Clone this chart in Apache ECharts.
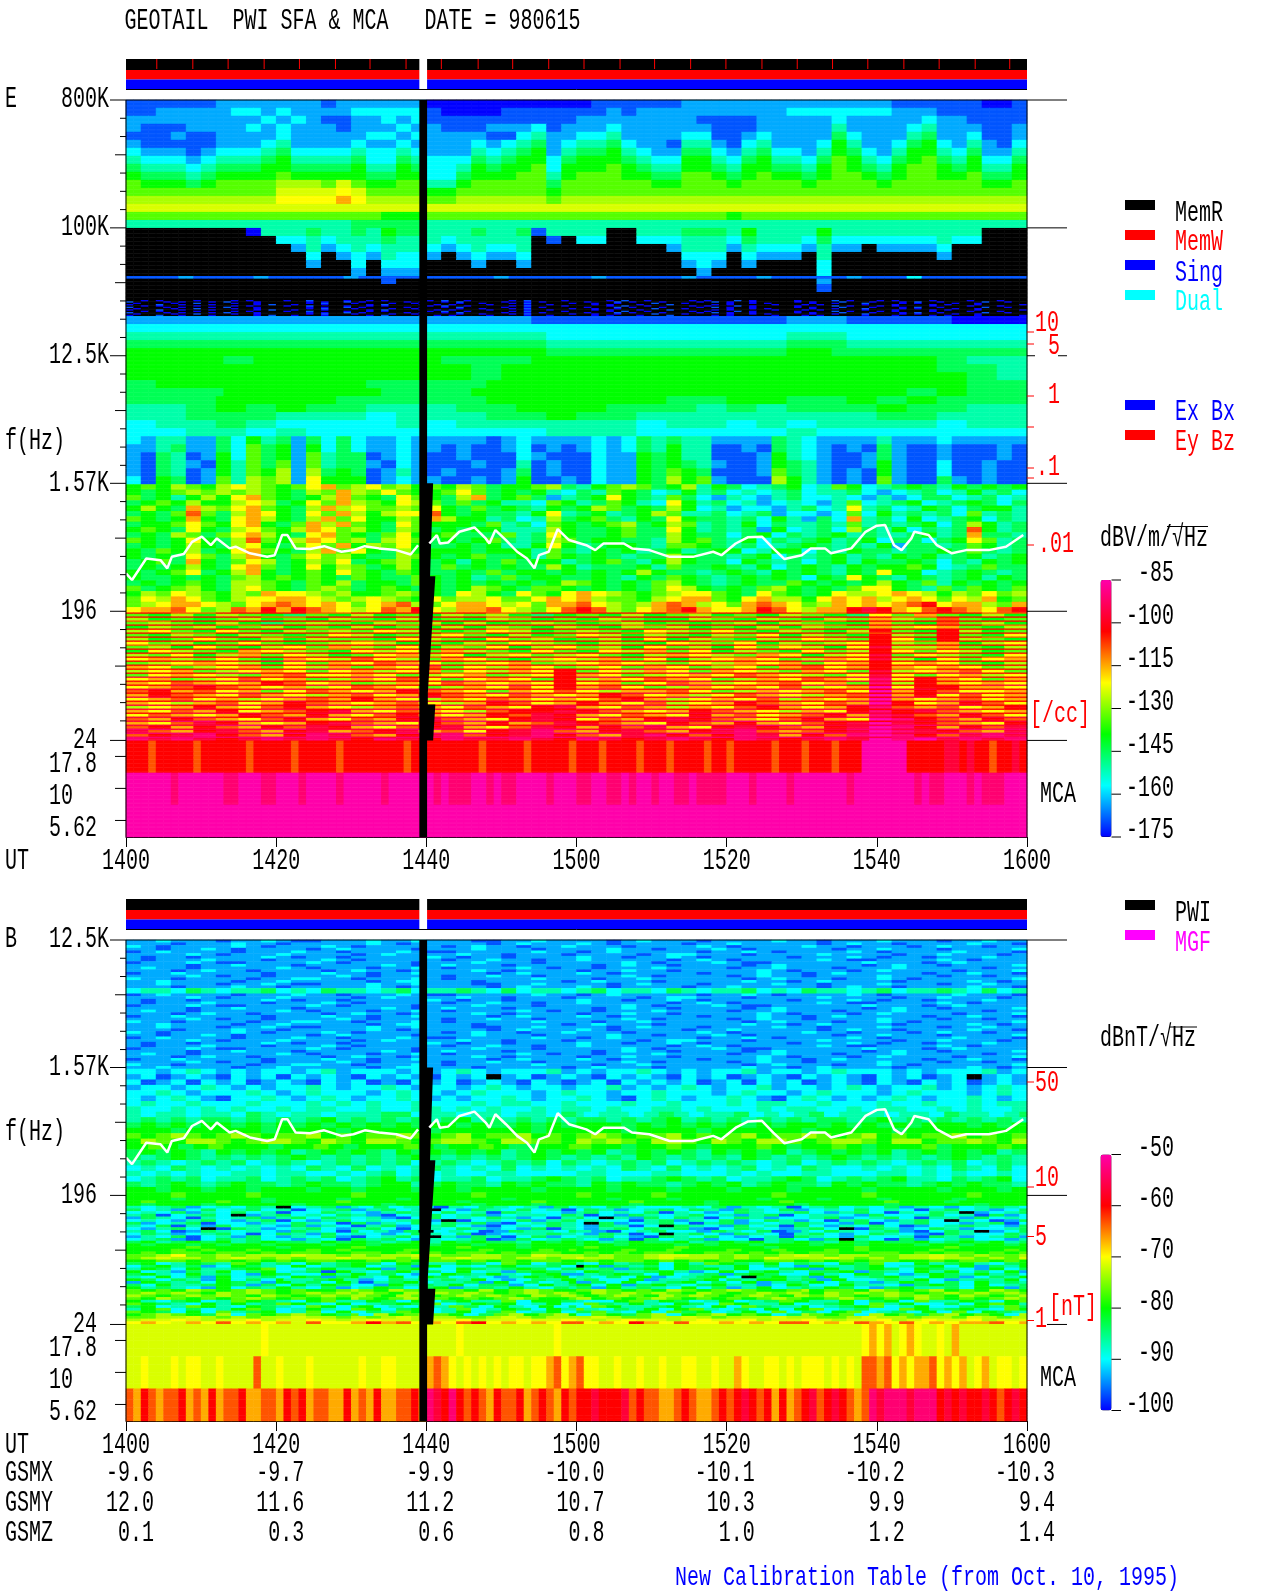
<!DOCTYPE html>
<html><head><meta charset="utf-8">
<style>html,body{margin:0;padding:0;background:#fff}#c{width:1280px;height:1593px}</style>
<script src="https://cdn.jsdelivr.net/npm/echarts@6/dist/echarts.min.js"></script>
</head><body><div id="c"></div>
<script>
// level letters: a=weakest ... p=strongest, q=yellow-lime, '.'=no signal (black)
const levelCodes = "abcdefghijklmnopq";
const eLevels = [-174.9,-169,-163,-157,-151,-145,-139,-133,-127,-121,-115,-109,-103,-97,-91,-85,-123.7];
const bLevels = [-99.9,-96.7,-93.3,-90,-86.7,-83.3,-80,-76.7,-73.3,-70,-66.7,-63.3,-60,-56.7,-53.3,-50,-71.5];
const utMinutes = [0,20,40,60,80,100,120];
const utLabels = ['1400','1420','1440','1500','1520','1540','1600'];
const gsmx = ['-9.6','-9.7','-9.9','-10.0','-10.1','-10.2','-10.3'];
const gsmy = ['12.0','11.6','11.2','10.7','10.3','9.9','9.4'];
const gsmz = ['0.1','0.3','0.6','0.8','1.0','1.2','1.4'];
const eMajorHz = [800000,100000,12500,1570,196,24];
const eMajorLabels = ['800K','100K','12.5K','1.57K','196','24'];
const bMajorHz = [12500,1570,196,24];
const bMajorLabels = ['12.5K','1.57K','196','24'];
const mcaAxisHz = [18.5,11.0,6.53];
const mcaLabels = ['17.8','10','5.62'];
const statusTicks = [4.1,8.9,13.6,18.4,23.1,27.9,32.5,37.3,42,46.9,51.5,56.3,61,65.8,70.4,75.2,79.9,84.7,89.4,94.1,98.8,103.6,108.3,113.1,117.7];
const gapMin = [39.07,40.1,40.1,40.9,40.5,41.2,40.2,40.2,41.2,40.9,40.1,40.1,39.07];
const gapHz = [800000,800000,1570,1570,347,347,52,43,43,24,24,4.99,4.99];
const plasmaMin = [0,.8,2.7,4.6,5.5,6.1,7.7,8.8,10.1,11.3,12.1,13.8,14.6,16.5,18.8,19.8,20.8,21.5,22.6,24.5,26.4,28.7,30.3,31.8,33.7,36,37.9,38.9,null,40.4,41.4,41.8,42.9,44.4,46.4,47.9,48.4,49.2,50.6,52.1,53.4,54.4,55,56.3,57.5,59,61.3,62.5,63.6,66.3,67.4,69.7,72.4,75.5,78.2,79.3,81.2,82.8,84.7,86.2,87.7,90,91.2,93.1,93.9,96.6,98.5,100,101.1,102.3,103.3,104.6,105,106.9,108,110,111.9,114.9,117.2,119.5];
const plasmaHz = [363,326,462,450,394,475,497,606,659,574,641,545,560,503,475,488,677,677,545,539,565,516,530,565,545,530,494,574,null,590,677,590,600,714,766,641,590,734,624,516,462,394,488,516,746,624,574,530,590,590,545,530,475,475,516,488,590,652,659,545,458,488,545,545,503,545,714,788,797,574,530,641,714,677,574,503,530,530,560,677];

// E panel, 800K-100K, one string per 2-minute column, top to bottom
const eWaveCols = ["bbccbcdefghhiqhe","bbcbbbcdefghiqhe","bccbbbcdefghiqhe","bccbcbcdefghiqhe","bcccbbbcdefhiqhe","bcccbbcdefghiqhe","ccccccdefghhiqhe","cdccccdefghhiqhe","cdcdccdefghhiqhe","ccdccdefgghhiqhe","cdcddefgghiqjqhe","ccdcccdefgiqjqhe","ccccccdefgiqjqhe","bcbcccdefghqjqhe","ccbbccdefgqjkqhe","cdcccdefgghqjqhf","cdccdcddefghiqhf","cddcdcddefghiqgf","cdcdcdefgghhiqgf","cddcdcdefghhiqgf","abbccccdddeghqhe","aabbcccdddeghqhe","aabbcccdefghiqhe","aabbcdefgghhiqhe","aabcbcdefghhiqhe","abbcbdefgghhiqhe","abbcdefgghhhiqhe","abbdefgghhhhiqhe","abbbcccddefghqhe","abbccdefgghhiqhe","abccdefgghhhiqhe","bbccdefgghhhiqhe","bccdefgghhhhiqhe","bbcccdefgghhiqhe","bcccccdefghhiqhe","bccccccdefghiqhe","bccccbcdefghiqhe","ccccdefgghhhiqhe","ccbcdefgghhhiqhe","ccbbbcdefghhiqhe","ccbbbbcdefghiqge","ccbbcdefgghhiqhe","ccccdefgghhhiqhe","ccccccdefghhiqhe","cdccccdefghhiqhe","cdcccccdefghiqhe","cdcccdefgghhiqhe","cddefgghhhhhiqhe","cdccdefgghhhiqhe","cdccccdefghhiqhe","cdcccccdefghiqhe","bccccdefgghhiqhe","bccdefgghhhhiqhe","bcdefgghhhhhiqhe","bbcccdefgghhiqhe","bbccccdefghhiqhe","bbbcdefgghhhiqhe","abbbbccdefghiqhe","abbbbbcdefghiqhe","bbbccdefgghhiqhe"];
// E panel, 100K-12.5K, same columns
const eGapCols = ["..........acdefg",".........aacdefg","..........acdefg",".........aacdefg","..........acdefg",".........aacdefg","..........acdefg",".........aacdefg","a.........acdefg","e........aacdefg","ed........acdefg","edc......aacdefg","feedc.....acdefg","edc......aacdefg","eedc......acdefg","feeddc...aacdefg","eedc......acdefg","gfeedcb..aacdefg","feeddc....acdefg","feeddc...aacdefg","eedc......acdefg","edc.......acdefg","eedc.....aacdefg","feedc.....acdefg","eedc.....aacdefg","eedc......acdefg","feedc....aacdefg","b.........abdefg","eb........abddef","e.........abddef","ed........abddef","ed........abddef","..........abddef","..........abddef","ed........abddef","ed........abddef","edc.......abddef","feedc.....abddef","feeddc....abddef","feedc.....abddef","edc.......abddef","gfedc.....abddef","eedc......abddef","eedc......abddef","eedc......bcdefg","edc.......bcdefg","gfeeddcb..bcdefg","edc.......bcdeff","edc.......abddef","ed........abddef","edc.......abddef","edc.......abddef","edc.......abddef","edc.......abddef","eedc......abddef","ed.........addef","ed.........addef","...........addef","...........addef","...........addef"];
const eHumRow = "bbbcbbbbcbbbbbcbbbbbbbbbcbbbbbcbbbbbcbbbbcbbbbbcbbbdbbbbbbb";
// blue speckle on black, just above the 12.5K band
const eSpeckle = [
".a....a..b....a..a......a.b...a....a..a.....a..a...a.b.....a...a..a....b...a.....a..a.a.....a..a...b....a.a....a..a......a",
"a...b..a...a.....a.b..a...a.....a.b....a..a.a....a....a..a.....a.a...a...b.....a..a.....a...a.a.....a...a....a.a...a.....a.",
"..a.a....a....a.a....a..b....a..a.a.....a.b..a.....a.b....a.a....a.b..a.....a.a...b.a.....a....b.a...a.a....a....a...a....",
"b....a.a...a.b...a......a.a..b.a.....a.a..a.b.....a..a.a....a.a...b.a...a....a.b.a..a.....a.a...b...a...a.b..a.....b..a..a"];
// E panel, 12.5K-1.57K
const eBand3 = ["gggfggggggfffgggggggggggggfee","gggggggggggfggggggggggggggffe","gggggggggggfgggggggggggggggfe","fgggggggffffggggggggggggggggff","fffgggggfffggggggggggggggfgff","fffggggfffffggggggffggffgfgfff","eefgfgffeeeffgggfffefefffgffee","eefffeeedeeeffgffeeeeeeeeffeee","deefeddddedeeeeeedeededeeeedee","ddeededdddddddeeedddddeddddddd",
"dceeccfdgefcfdfdccdcccccbcdccccdcdfefeeccccfedccccecccdccccc","ccefccfdhfgcgdfdccdccbcbbcdbcbcdcdfegeebbcbfedcbcbfcbbcbbbcb","cbfebcgdhfgcheffbcdcbbcbbbdcbbbdccgfgeebbbcgedcbbcfcbbcbbbcb","cbfecbgehfhcheffcbdcbbbcbbebcbbdccgfgfecbbcgfecbbcgcbbdbbcbb","cbfebcgehgicifgfbcecbcbbbcfbcbbdccgfhgfbbbchfecbcbgcbbdbbcbb","dbgfbcheihicjgggbcdccbbcbcgbbcbdccgfighcbbbigecbcbhcbbfcbcbb"];
// E panel, 1.57K-196
const eBand4 = [
"ghgihgijihghjkhijhighgihfgghifeghihfgiegfdefgdehgdefgfegfgfg",
"gfghihihihgfihkihjhgghjhfgfgedfehgfdegefdedefdeefdcdefdegefd",
"hfgegigjkhgfgikhgfjhgfikfghfcefgjgfehfdcedcefddedcecdffdefde",
"fghgiggijifgjhkihgjihfhfgeedhgefhgedjgefdecdedcehdefgdefgfdf",
"gigfkihjkhgfikijhhihjgfhfgfegfgihfgfigdecddcefdejefdegfdfgge",
"fgfhlhfikjgfjhkigijjlgfgffegjefgefgiheefdefcddcdhdgefefdhefe",
"hgfgkgfjkigfikhjggihkiggefdeifghfegfjgffefdgecfdkefdgdefgdfe",
"fgghjhgjkgfhkikhgfjhgggfhefdhgfghifgihefegdfeefehefefgdfigef",
"ghgfjgfijhgikjhigfihfgfggeeeigffghffjgefefcgdefdifegdfeflgef",
"fgfihfhjkigfjkhgfhjgghfffhefjgffghffigffdfgdfefgefeefgefkffe",
"hgfgjgfilhgikjhifijhfgfghfefihfggffeighfegdfefgefgdffdfgjhef",
"fgfgigfijgfhjhkgihjgffgfgeegjgefggfehhgfefdefgfefegcffefhgef",
"gfhgifgjkhgfikhjgfiggggfgggehfegfgefgefggdeggdfegffeffgfhfef",
"gfgfjhfikgfhjhigffihgfghffgehgfgfeffigffefgdfefgefegfgefgefg",
"fghfkgfhjifgihjfghigfgegfhfggefghfegigffdgfefdfgegffgfdfegfg",
"fgfgigfjkhfgjgihfgigfhfgfgffigefffgehffgfegdfgfegfgghgdefhff",
"gfghjfgikgfghgjhgfhgffgfhfggfgfgfgigffefgfegfgfegfjggdefgfef",
"gffgfgfhighghgfhgffhgfgefhfggffgfegfhgfefgfgfdgfjgfegfefgegf",
"fgfghgfiihgfhgifggfhgfgfgfgfgihgfgfhigfefgffhgfgfgigfhegfgfg",
"hfghigfijhgfhihfghgfgfgihgfhhgfgfgfhjigfgfhigfgfhjjgfehfhgfh",
"gihjihgihkjjihigghihgfjigfjhgjkjihghijjhgfjhgfgjiijkjigihjhi",
"hjikjhgijjkkjihijihgjhiijhhjkjkihhgijkkhgjkiigjkjkijkjhjikgh",
"hijkkjihjklkjkjhjklihjkkjijhkkljihiklkijhklkjhikjkjklmjkkihk",
"jkkljhilkmkmlkjijlkmjikkljihjlmlihjklmkjjkmljikkmnmkjlmlkjlm"];
// E panel, 196-24: colour between the thin lines
const eBand5 = [
"hgigihgfhgighgihigfghgighighgihgfjhkhgig","ighghighgihgighgihghgihggihgihgihkihlhgh","hihgigfhihgihigighihghighghigihggkhglhig","gihighighgighgigihgihgihighgigihhkijkhgi",
"ijhgjhgihihjihghjighihgjihjhgihgimhgmigh","hgihgihghjighijhgighjigihgihjgihgmihmhgj","ighjhgigihhgjihgjhighigjgihgihjihmjgmihg","jhighjhghijighgihjihgihgjihjgihijmihkgij",
"higjhgijhkihjgihjgijhigjhigjhjigjniikhgi","gjihgkjihgjijhkihgjhgjikhjgihgjhimjhjigh","ihjgikhjighjkijgijhijhgikjihkjgijnhjihgj","jkihjhgkjiljihkjhgijikhjgijkjhikjnigjhjk",
"hijkjigjhkjlkjhijkhijkjihjikjkhjkmjkjhgi","kjhijkhjikhkjlhjikjhijhkjhijhkljkmkjkjhi","ijkhijkjhjkijkhjikjmhjikjhkjihkjhnijkljh","hjkjihkljjkjhijkhijmkjhijkjlkjihjnjhjkij",
"jkhijljkhikjljhjkjhmikjlkjhikjlkjojmkjhk","kjlkjkmljkhikjlkjkjmjkhjlkijkljkhoimkjkj","jklmlkjkijlkjhikjljmkljhikjkjlijkpjmmkkj","lmkljkhjlkjkmlkjhkjljikkljhikjkljpkmljjk",
"kmlkjlkjikljkmlkjlkjkmljkijlkjiklpkmjljk","jkljkijklkmkjikjlkjkjlmkijkjlikjkpkjkljk","kjikljkmlkjkljikmljkmkjlijkmlkjlkpmjkmlj","ijkmkjlmkjiklkjlkjmnkjlkikjlmkjkmolkljkm",
"kjlkmjklmnkjlkjilmmnmlkjkmlkjikjmomnlkjk","jlkjkmlkmkjlmkjkmlnmkjlkjmkljklmkonlkmlj","lkmlkjlmkjlkmnlkjmnmjlkmnmlkjlmkjpomlkml","kjlnmkjkmnlkjmlkmklnmlkjmlkmkjlmnpnmlkjm",
"lmkmlkmlnmkjlmnkjlnmkmlnkjmnmlkmnpomkmln","nlkmnlkmnklmnkljmnolkmnlkmnolklmnponmlkn","lmnomlkmonlkmnolmnomlknomlmonkmlopomlnon","ononmnononmonmonnonmonmnonmonmnonpopnono"];
// E panel, 196-24: the thin line above each colour row
const eBand5Lines = [
"mlmmlmmmlmmmlmmlmmml","mmmlmmmmlmmmmlmmmlmm","lmmmmlmmmmlmmmmlmmmm","mmlmmmlmmmmlmmmlmmml","mmmmlmmmlmmmmmlmmmmm","mlmmmmmlmmmlmmmmlmmm","mmmlmmmmmlmmmlmmmmml","mmmmmlmmmmmmmlmmmlmm",
"lmmmmmmlmmmmmmlmmmmm","mmmmlmmmmmlmmmmmmlmm","mmlmmmmmlmmmmmlmmmmm","mmmmmmlmmmmmmlmmmmml","mmmnmmmmmlmmmmmnmmmm","mlmmmmnmmmmmmlmmmmmm","mmmmnmmmmmmnmmmmmlmm","mmnmmmmlmmmmnmmmmmnm",
"nmmmmnmmmmnmmmmmnmmm","mmnmmmmnmmmmnmmmnmmm","mnmmnmmmnmmmnmmnmmmn","nmmnmmnmmmnmmmnmmnmm","mmnmmnmmnmmnmmnmmmnm","nmmnmmnmmnmmnmnmmnmm","mnmnmmnmnmmnmnmmnmnm","nmnmnmmnmnmnmmnmnmnm",
"nnmnmnnmnmnnmnmnmnnm","mnnmnnmnmnnmnnmnnmnm","nnmnnmnnmnnmnnmnnmnn","nonnmnnonnmnnonnmnnn","nnonnonnmnnonnonnonn","onnonnonnonnnonnonoo","oonoonoonoonoonoonoo","ooooonooooonoooonooo"];
const eMca1 = "mmmlmmmmml mmmmmmlmmm mmlmmmmmlm mmmmmmmlmm mmmmmmmlmm mmmlmmmmml mmmlmmmmlm mmlmmmmlmm lmmmmmlmmm lmmmlmmmpp ppppmmmmmn nmnmmlmmnm";
const eMca2 = "ppppppoppp pppoopppoo pppoppppop ppppoppppp popoooppop ooppppoppp ooppoopopp oppoopoooo pppoppppop ppppppoppp pppppopoop ppopoooppp";
const eMca3 = "p";

// B panel, 12.5K-1.57K
const bBand1 = [
"ccdcccbccdcbbcccdccdcccbbccdccccbcdcccbccccdccbcccdcccbccdcc","cbcccdcccbcccdcbcccccbccdccbccdcccccbcdcbcccccdcbbccccdcbccc",
"dccbccccbccddccbcccdcbcccccdcccbccdccccccbcdcccbccdcbccccccd","ccccdcbcccdccccbcdccccdccbcccbccccbcddcccbccccdccccbccdcccbc",
"bccdcccccbcccdccbccdccccbcdcccdcbcccccbcccdccbcdcccccbccdccb","ccbccdcbccccbcdccccbcccdcccbccccdccbcccdcbcccccbccdcccbccccd",
"cdccbcccccdcbcccbccdcbccccdcbccbcccdccccbccdcccbcccdcccccbcc","cccbcccdccbcccccdcbcccccbcdcccdcbccccbccdcccccbcdccbccccdccb",
"bcccdcbbccccdcbccccbcccdcccbcccccdcbcccdcbbccccccdcccbcdcccc","ccdccccbccdcccccbcddcccbcccccbcdcccbcccccdccbcdccccbccccdcbc",
"cbccbccccdcbccbcccccdcbccbccccdccbccdcbcccccbcccdcbccbcccdcc","ccccdcbccbccccdcbccccbccdccbcccccdcbccccbcdccbccccdcccbccbcc",
"bcdccccbcccdccbcccdcbbcccccdccbcdcccccbccdcbccccdcbccccdcccb","cccbcdccbccccbcdccbccccdcbccccbccdccbcccccdcbcccbcdccccbcccd",
"dcbccccdcbcccdcbcccccbcdccbccdcccbccccdcbccccdccbcccbcdccbcc","ccccbccdcccbcccccdcbcdcccbcccccbcdccbccccbcdcccccbcdccbccccd"];
const bGreenRow = "deedfedeefdedfeedefdeefedfdeedefdeedfedeefdedfeedefdeefedfde";
// B panel, 1.57K-196
const bBand2 = [
"ddcdedcdcddcdecdddcdcdedcdddecdcddedcdcddecddcdedddcdcdddecd","cdbcdcbdcdbdcdcbdcdcbdcd.cdbcdcbdcdcbdcdbcdcbdcdcbdcdbcd.cdc",
"dbcdbdcdbcdcbdcdbcbdcdbcdcbdcbcdbdcdcdbcdbdcdbcdcbdcbdcdbcdc","cddcdedcdcddedcddedcddcdedcddcddecdcdedcddecddcdedcddecdcded",
"ddedcdddedcdedddcdeddcdedddcdeddcddedddcdeddcdedddcdedddcded","dcdedcbddedcdedcddedcdcddedcddedcbdedcddedcbdedcdcdedcddedcd",
"deddedddedddedededdedddedeeddedddeddedddedeeddedddeddeddedee","eddedededdedeeddeddeedededdedeededdeededddedeeddedeeddededde",
"edeedeedfedeedeeeffdeedeedeedfedeedefedeefdedefdeeedeedfeedef","efefeffefefefgefefefefgefefefeffefefgefefefefeffefgefefefefe",
"fgfgfggfgfgfgfgfgfgfggfgffgfgfgggfgfgfgfgfgfggfgfgfgfgggfgfg","gggfgggggfggggfgggggfggggggfgggggfggggfggggggfgggggfgggggggg",
"hghihghihghhighghhihghighhighghihghhighghighhihghighghhighgh","gihgiihghiihgihgiihghiihgiihhgihihgiihgihgiihghiihgiighhihgi",
"ghgfghgggfgghgfggghgfgghgffgghggfgghgfggghgfgghgfggghfggghg","fgfgfegfgfgefgfgfegfgfgfgefgfgfgefgfgfegfgfgefgfgfgefgfgfgef",
"fefgfefefefgfefefefgfefefefgfefefegfefefegfefefgfefefefgfefe","efedefefdefedefefefdefedefefdfedefefdefefedefdefefedefefdefe",
"dedfededededfedfdedefededfdedededfedfdedefdedfeddedededfedfd","edededdeedeeddedefdededdeeddddeedddeedddededdeedddeedededded",
"defefdeefdefefdefgefdeefdeefgfefdeefgfefdeefgfdefefgeedfefgd","fefgfefgffefgffefggefgffegfgffegfgffefgfgefgffegfgffefgfgffe",
"ggfggfggfgggfggfgggfggfggggfggggfgggfgggfgggfggggfggggfgggfg","ggghgggghgggggghggggggghgggggghgggghggggggghggggghgggggghggg"];
// B panel, 196-24
const bBand3 = [
"gggfgggggfggggfgggfggggggfggggggfgggfgggggfgggfgggfggggfgggg","ghgggghggfgggghgggggggfgggghgggggghggggfgggghgggggghgggfggggg","gfgggfgggggfgggggfgggggfgggfggggggfggggfgggggfgggggfgggggfggg",
"edefcdedfe.defcedfdedbedfedecfdedfedddedfcedebdefdedfcedcdefed","fdecdfdefdebdefcefde.dcfedfdebdfecdefdfecfedfcdedfdedbefdecdf","dedfcedfdebddfedcefedfdebfeddcefdedfbedcdfedefdcefdbedfe.cdef",
"efbdefd.cefdedfecbdefdefcdeedfebdcfedefdecefbdeedcfddefdebfcd","cfedbedefcefdfedecbdfdedfecdbefd.ecfdfebdfecddefcdefdbeecfded","dedcefdcefbdcefdedefc.bdedfcefdeddbefcedfcdfecdbefdcefd.edbcf",
"fcdefbddcedfedbfcedfdfefcbdefed.fcdefdbefcedefedcfbdefddcefbd","edfbecfdedcfcedbefcdefdcbdedfedcfebd.fedcfdebfdcedfdbcdefedcf","dcefd.bfecdefdcefdbdedfecdcfbedcefdfefcbdfedcefd.bfecdfecddef",
"efdbcfededcfedbfdecf.dedbcfeedfecbdefddcfedfbcedfedefcbdfe.cdf","dfecdefdbdfecfdedcdfedfbcdeefedcfebd.efdcfedbefdcdfedcbfeddfe","cedfbdecfdcedfcbdefd.ecfebdfcdeefdcbfedfdcdebfedcfddebfecdefc",
"defcbdfefddcedbfefdcedefbcfdefedcebfdefcddbefdcf.edbfcdefddce","fgefgfgefgffegfgfefgegfgffegfgfgefgffgefgfgefgfegfgffgefgfgef","gfggfgfggfgggfggfgggfggfggfgggfggfgggfgfggfgggfggfgggfggfggfg",
"gggghgggggfgggghgggggghgggfgggghggggghgggggfggggghggggghggggg","ggghghgghggghghgggghgggghggghghggghgghggghgghggghghgggghgggghg","ghghhghhghghhgghhghghghhghghhgghghghhgghhghghghhgghhghghhghgh",
"hhijhhihiiiqiihihiiqihhiihhqiiihihhiqqiihihhiqihiihhiiqihihhi","hiqiihiqihihiiqiiihihiqiihiihiqiihhiqiiihihqiiiqihihiiqiihihq","gghhghhghghghhgghghghhghghghhgghghhghghghgghhghghghhgghghhghg",
"fgdegfehgefdgefgfdgfeegfdhgdfgedgefgdgehgfegdfedgfhddgefgedfg","dfgefcdgfedgdefgdefcgdedfgeefd.gcfefdgfeegdfdcgeefgdefgdgcfeg","egfdgeefghddfgeegcfgddgfefgfdfgefcfgdgfgegddfgcgefgfdgfedcgdf",
"gdecfegdfgdefbgedfgefdgdecfgfedgfeefgecdgdfgedffgcfedgegdfdgc","fgedgefdcgfddgegefdcdgfegedfgccefgfdgdefcfgfddgedgfdcegfegefd","edgdfcgdefdgfcfgedgdgfdedcegfgdedfdgcdefgd.fgefcgdefgedgfcdfeg",
"gfdfecgdfdgeefgecdfegefegdcdfegefddgceefgdfeggefcgddefegdcefegd","cgfefdgfecgefdgebefgdeefcgdfdegcfdgdefgdfdgcefegdfecegfdfdgefe","fdgeefgfcfdgegfddcgefegdffcdgefgdgcfgedfgeecdgfddgeedcfgfdgdef",
"gefedcgdfegedfcdegfdfgcefegedfefcgefedgdfcegdefegfdcfgeefdggcf","hghgihghihghgghihgihghhgighihgghihghgihghihgghighhgihghighgihg","hihihgihihghihihihgihihihghihihgihihihgihghihihgihihihghihihih",
"ihghihihgihghihihgihghihihgihihghihgihihghihgihihghihihgihghi","hgihghghihghghgihghighghghihgghighghihghghghihgghihghgihghghih",
"gedfgdehgfedgheegfdgdfgeehdggfeddghegfdegdefhgeegdfgdheegfdgh","hgfedgegefhgedgdefgfhdegfgdegddhfegedgfdhgeegdefgdhegddfdghge","fgdehgedgfedhgdfgdedgehfdgedgdfdhgeefgedgdhfeegdefghdegddfgehf",
"eghdfdeghfdegedhgdfgdehdegfdgehedfegdghedfdgdghdefddhgefgedhg","hgfdgdhefgdehdgdfehgdegdfhdegdfhedgdhfgdegdhdfdghdefdgdhdgfe","ghihgfidhghihgfhdighihgdfhighigdhgfhidghighgdfihghdighfhighgdi",
"hhiiqihihiiqiihihiqiiihhiqihiiiqihhiiqihiiiqiihhiqiihiihqihi","iqqjqiqqjiqqjqiqjqqiqqjiqqjqqjqiqjqqiqjqqjiqqjqiqqjiqjqqjiqq","jkjqkjljkjkqljjkmkljkjlmjkjkjlljkjmkjljjkjkjlljkjlkjljkjkkljk"];
const bMca1 = "qqqqqqqqqq qqqqqqqqjq qqqqqqqqqq qqqqqqqqqq qqqqjqqqqq qqqqqqqjqq qqqqqqqqqq qqqqqqqqqq qqqqqqqqqq qqqqqqqqjk jkqjkjqqjq kqqqqqqqqq";
const bMca2 = "qqjqqqjqjj qqjqqqqlqq jqqqjqqqqq qjqqjjqqqq klkjqjqjqj qjjqjjkljk ljjqqjqqjq qjqqjjqqjq qkjqqjjqjq jjjqjqjqll kljkjkkljk jkqjkqjjqj";
const bMca3 = "lkmlkllmkl kmkllmkkll kmlmkllkkm klkmkkllmk onmomlmlkm llmklmlkml mmnmmmnlml lkklmlkklm lmnmlmkmkl mnlmnmlklo nooonooomn mnmmnmlmnm";

// build one heatmap's rows (top row first) and turn level letters into dB
function rep(list,n){const out=[];list.forEach(s=>{for(let i=0;i<n;i++)out.push(s);});return out;}
function cols2rows(cols){const out=[];for(let r=0;r<cols[0].length;r++)out.push(cols.map(c=>c[r]||'.').join(''));return out;}
function toCells(rows,levels){const cells=[];rows.forEach((s0,r)=>{const s=s0.replace(/ /g,'');for(let c=0;c<120;c++){const k=s[Math.floor(c*s.length/120)];const i=levelCodes.indexOf(k);cells.push([c,r,i<0?-300:levels[i]]);}});return cells;}
const stripes=[];eBand5.forEach((s,i)=>{stripes.push(eBand5Lines[i],s,s);});
const eRows=rep(cols2rows(eWaveCols),6).concat(rep(cols2rows(eGapCols),6),rep(eBand3,6),rep(eBand4,4),stripes,rep([eMca1,eMca2,eMca3],24));
eRows[132]=eHumRow;eRows[133]=eHumRow;
for(let i=150;i<162;i++)eRows[i]=eSpeckle[i%4];
const bNoise=[];for(let i=0;i<48;i++)bNoise.push(bBand1[(i*7)%16]);
bNoise[18]=bGreenRow;bNoise[19]=bGreenRow;
const bAll=bNoise.concat(rep(bBand2,2),bBand3,rep([bMca1,bMca2,bMca3],12));
const eCells=toCells(eRows,eLevels), bCells=toCells(bAll,bLevels);
const plasma=plasmaMin.map((m,i)=>m===null?['-','-']:[m,plasmaHz[i]]);
const colorStops=['#0000ff','#00ffff','#00ff00','#ffff00','#ff0000','#ff00aa'];
const FONT='20px "Liberation Mono"';
const SY=1.5;
function tx(text,x,y,align,color,sy){return {type:'text',x:x,y:y+1.5,scaleY:sy||SY,silent:true,z:50,style:{text:text,font:FONT,fill:color||'#000',textAlign:align||'left',textVerticalAlign:'middle',align:align||'left',verticalAlign:'middle'}};}
function ln(x1,y1,x2,y2,c,w){return {type:'line',silent:true,z:40,shape:{x1:x1,y1:y1,x2:x2,y2:y2},style:{stroke:c||'#000',lineWidth:w||1}};}
function rc(x,y,w,h,c,st){return {type:'rect',silent:true,z:40,shape:{x:x,y:y,width:w,height:h},style:{fill:c,stroke:st||null,lineWidth:st?1:0}};}

function axesRender(cfg){return function(params,api){
  const pt=(m,f)=>api.coord([m,f]);
  const [xL,yT]=pt(0,cfg.maxHz), [xR,yB]=pt(120,4.99);
  const ch=[];
  ch.push(ln(xL,yT,xL,yB),ln(xR,yT,xR,yB),ln(xL,yT,xR,yT));
  const bx=(m)=>pt(m,cfg.maxHz)[0];
  ch.push(rc(xL,yT-41,xR-xL,11,'#000'),rc(xL,yT-30,xR-xL,9.5,'#ff0000'),rc(xL,yT-20.5,xR-xL,10,'#0000ff'));
  if(cfg.statusTicks)cfg.statusTicks.forEach(m=>ch.push(ln(bx(m),yT-41,bx(m),yT-31,'#ff0000')));
  ch.push(rc(bx(39.07),yT-41,bx(40.1)-bx(39.07),30.5,'#fff'),ln(xL,yT-10.5,xR,yT-10.5));
  cfg.major.forEach((f,i)=>{
    const y=pt(0,f)[1];
    ch.push(ln(xL-16,y,xL,y));
    if(cfg.skipRight&&cfg.skipRight[f]) cfg.skipRight[f].forEach(s=>ch.push(ln(s[0],y,s[1],y)));
    else ch.push(ln(xR,y,xR+40,y));
    const lb=cfg.labels[i];
    ch.push(tx(lb,lb.endsWith('K')?109:97,y-2,'right'));
    if(i<cfg.major.length-1) for(let k=1;k<7;k++){
      const yy=pt(0,f*Math.pow(8,-k/7))[1];
      ch.push(ln(k===3?xL-11:xL-6,yy,xL,yy));
    }
  });
  mcaAxisHz.forEach((f,i)=>{
    const y=pt(0,f)[1];
    ch.push(ln(xL-11,y,xL,y));
    ch.push(tx(mcaLabels[i],mcaLabels[i]==='10'?73:97,y+6,'right'));
  });
  utMinutes.forEach((m,i)=>{ch.push(tx(utLabels[i],pt(m,cfg.maxHz)[0],yB+23,'center'));});
  return {type:'group',children:ch};
};}
function gapRender(maxHz){return function(params,api){
  if(params.dataIndex!==0)return null;
  const pts=gapMin.map((m,i)=>api.coord([m,Math.min(gapHz[i],maxHz)]));
  return {type:'polygon',silent:true,shape:{points:pts},style:{fill:'#000'}};
};}
function heat(name,xi,yi,data){return {name:name,type:'heatmap',xAxisIndex:xi,yAxisIndex:yi,data:data,progressive:0,silent:true,emphasis:{disabled:true},itemStyle:{borderWidth:0}};}
function overlay(xi,yi,maxHz,cfg){return [
 {type:'custom',coordinateSystem:'cartesian2d',xAxisIndex:xi,yAxisIndex:yi,data:[[0,1000]],renderItem:gapRender(maxHz),silent:true,clip:true,z:5},
 {type:'line',xAxisIndex:xi,yAxisIndex:yi,data:plasma,symbol:'none',connectNulls:false,silent:true,lineStyle:{color:'#fff',width:2.5},z:6},
 {type:'custom',coordinateSystem:'cartesian2d',xAxisIndex:xi,yAxisIndex:yi,data:[[0,1000]],renderItem:axesRender(cfg),silent:true,clip:false,z:7}
];}
const cats=[];for(let i=0;i<120;i++)cats.push(i);
const eCats=eRows.map((_,i)=>i), bCats=bAll.map((_,i)=>i);
function catX(g){return {type:'category',gridIndex:g,data:cats,show:false};}
function valX(g){return {type:'value',gridIndex:g,min:0,max:120,interval:20,position:'bottom',axisLine:{show:true,lineStyle:{color:'#000',width:1}},axisTick:{show:true,length:10,lineStyle:{color:'#000'}},axisLabel:{show:false},splitLine:{show:false}};}
function catY(g,d){return {type:'category',gridIndex:g,data:d,inverse:true,show:false};}
function logY(g,max){return {type:'log',logBase:8,gridIndex:g,min:4.99,max:max,show:false,splitLine:{show:false}};}

const gfx=[];
gfx.push(tx('GEOTAIL  PWI SFA & MCA   DATE = 980615',124.5,20));
gfx.push(tx('E',5,98),tx('f(Hz)',5,440),tx('UT',5,860));
gfx.push(tx('B',5,938),tx('f(Hz)',5,1131),tx('UT',5,1444),tx('GSMX',5,1472),tx('GSMY',5,1502),tx('GSMZ',5,1532));
utMinutes.forEach((m,i)=>{const x=126+m*7.508+28;gfx.push(tx(gsmx[i],x,1472,'right'),tx(gsmy[i],x,1502,'right'),tx(gsmz[i],x,1532,'right'));});
gfx.push(tx('New Calibration Table (from Oct. 10, 1995)',675,1576,'left','#0000ff',1.35));
[['MemR','#000',200,212],['MemW','#ff0000',230,241],['Sing','#0000ff',260,272],['Dual','#00ffff',290,301],['Ex Bx','#0000ff',400,411],['Ey Bz','#ff0000',430,441],['PWI','#000',900,911.5],['MGF','#ff00ff',930,941.5]].forEach(l=>{gfx.push(rc(1125,l[2],30,10,l[1]),tx(l[0],1175,l[3],'left',l[1]));});
[[580,257,-175,-85,[-85,-100,-115,-130,-145,-160,-175],-8],[1154.5,256,-100,-50,[-50,-60,-70,-80,-90,-100],-8]].forEach(b=>{
 b[4].forEach(v=>{const y=b[0]+b[1]*(b[3]-v)/(b[3]-b[2]);gfx.push(ln(1111.5,y,1121,y),tx(String(v),1174,y+b[5],'right'));});
});
gfx.push(tx('dBV/m/√Hz',1100,537),ln(1167,526.5,1208,526.5),tx('dBnT/√Hz',1100,1037),ln(1170,1027,1197,1027));
gfx.push(tx('MCA',1040,793),tx('MCA',1040,1377));
const R='#ff0000';
[332,344,396,427,468,478,545].forEach(y=>gfx.push(ln(1027,y,1034,y,R)));
[['10',1035,322],['5',1048,345],['1',1048,394],['.1',1036,466],['.01',1038,543],['[/cc]',1030,713]].forEach(t=>gfx.push(tx(t[0],t[1],t[2],'left',R)));
[1082,1187,1236.5,1320.5].forEach(y=>gfx.push(ln(1027,y,1034,y,R)));
[['50',1035,1082],['10',1035,1177],['5',1035,1236],['1',1035,1318],['[nT]',1049,1306]].forEach(t=>gfx.push(tx(t[0],t[1],t[2],'left',R)));

const chart=echarts.init(document.getElementById('c'),null,{renderer:'canvas',width:1280,height:1593});
chart.setOption({
 animation:false,backgroundColor:'#fff',
 grid:[{left:126,top:100,width:901,height:737},{left:126,top:940,width:901,height:481}],
 xAxis:[catX(0),valX(0),catX(1),valX(1)],
 yAxis:[catY(0,eCats),logY(0,800000),catY(1,bCats),logY(1,12500)],
 visualMap:[
  {type:'continuous',seriesIndex:0,dimension:2,min:-175,max:-85,range:[-174.95,-85],left:1100.5,top:580,itemWidth:11,itemHeight:257,padding:0,showLabel:false,calculable:false,hoverLink:false,inRange:{color:colorStops},outOfRange:{color:'#000'}},
  {type:'continuous',seriesIndex:1,dimension:2,min:-100,max:-50,range:[-99.95,-50],left:1100.5,top:1154.5,itemWidth:11,itemHeight:256,padding:0,showLabel:false,calculable:false,hoverLink:false,inRange:{color:colorStops},outOfRange:{color:'#000'}}
 ],
 graphic:{elements:gfx},
 series:[heat('E',0,0,eCells),heat('B',2,2,bCells)]
  .concat(overlay(1,1,800000,{maxHz:800000,major:eMajorHz,labels:eMajorLabels,statusTicks:statusTicks,skipRight:{12500:[[1027,1035],[1058,1067]]}}))
  .concat(overlay(3,3,12500,{maxHz:12500,major:bMajorHz,labels:bMajorLabels,skipRight:{24:[[1047,1067]]}}))
});
</script></body></html>
